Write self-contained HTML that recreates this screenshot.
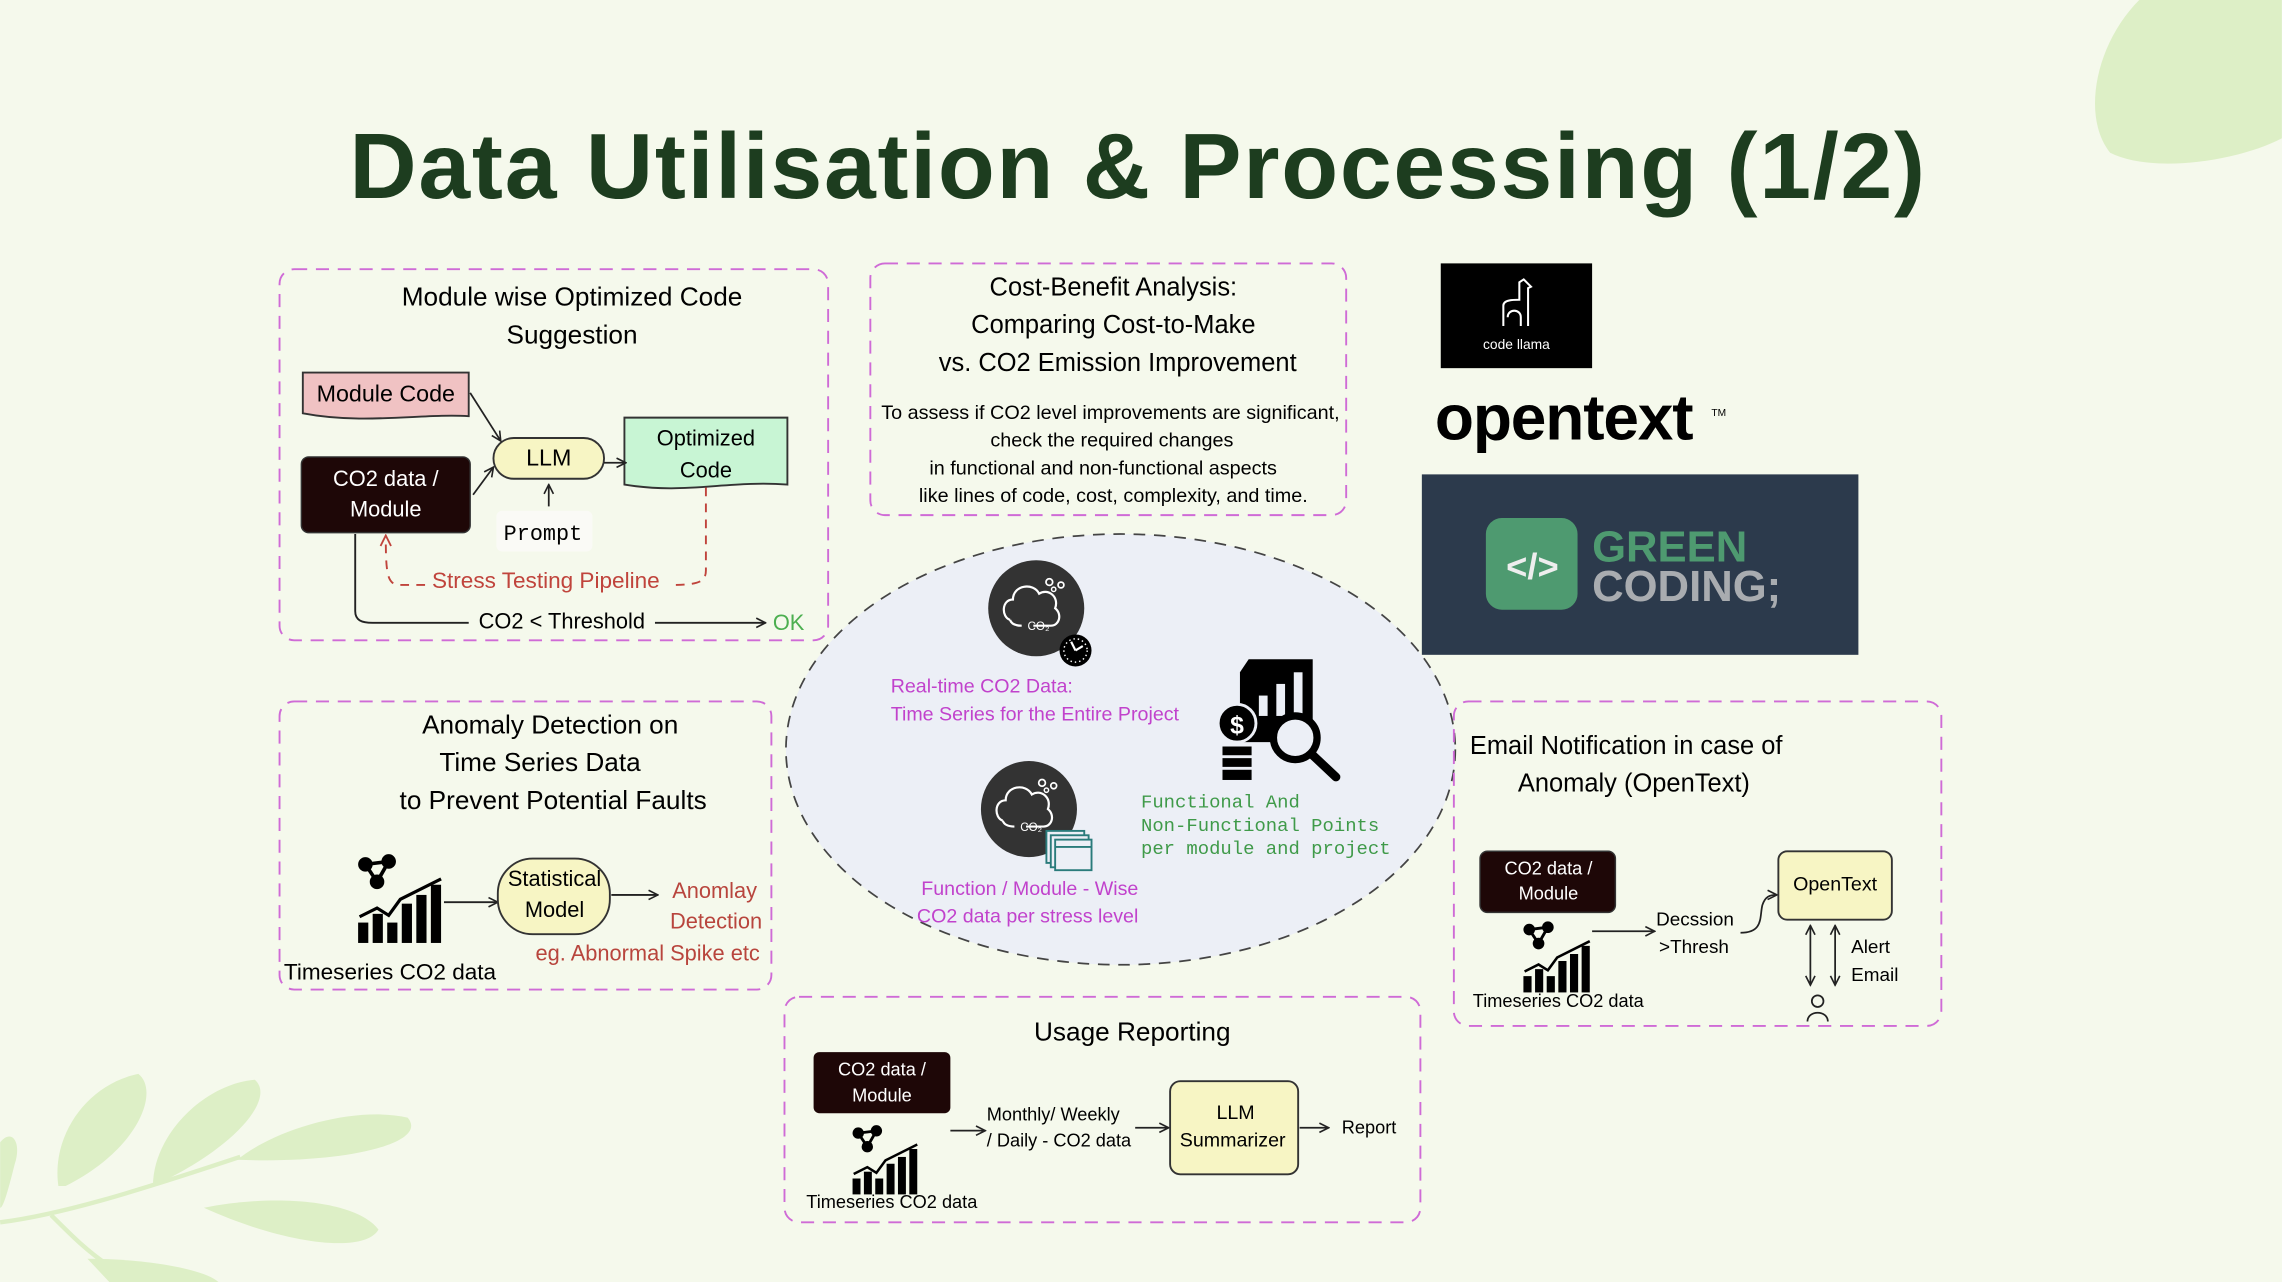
<!DOCTYPE html>
<html><head><meta charset="utf-8"><style>
html,body{margin:0;padding:0;background:#f5f9ec;}
svg{display:block;}
text{font-family:"Liberation Sans",sans-serif;}
.mono{font-family:"Liberation Mono",monospace;}
</style></head><body>
<svg width="2282" height="1282" viewBox="0 0 1568 881" xmlns="http://www.w3.org/2000/svg">
<defs>
<marker id="ar" viewBox="0 0 10 10" refX="9" refY="5" markerWidth="8" markerHeight="8" orient="auto-start-reverse" markerUnits="userSpaceOnUse">
<path d="M1,1 L9,5 L1,9" fill="none" stroke="#222" stroke-width="1.4"/></marker>
<marker id="arr" viewBox="0 0 10 10" refX="9" refY="5" markerWidth="9" markerHeight="9" orient="auto-start-reverse" markerUnits="userSpaceOnUse">
<path d="M1,1 L9,5 L1,9" fill="none" stroke="#c0443c" stroke-width="1.4"/></marker>
<g id="chart">
<circle cx="6" cy="6" r="5" fill="#000"/><circle cx="22" cy="4" r="5" fill="#000"/><circle cx="14" cy="18" r="5" fill="#000"/>
<path d="M6,6 L22,4 L14,18 Z" fill="none" stroke="#000" stroke-width="2.5"/>
<path d="M2,42 L14,36 L22,41 L30,30 L58,16" fill="none" stroke="#000" stroke-width="2.2"/>
<rect x="1" y="46" width="7" height="14" fill="#000"/><rect x="11" y="40" width="7" height="20" fill="#000"/>
<rect x="21" y="46" width="7" height="14" fill="#000"/><rect x="31" y="33" width="7" height="27" fill="#000"/>
<rect x="41" y="27" width="7" height="33" fill="#000"/><rect x="51" y="20" width="7" height="40" fill="#000"/>
</g>
<g id="cloud">
<circle cx="0" cy="0" r="33" fill="#333"/>
<path d="M-18,8 C-24,6 -24,-6 -16,-6 C-16,-16 -2,-18 2,-10 C8,-14 16,-8 13,0 C18,4 16,12 10,12 L-2,12" fill="none" stroke="#fff" stroke-width="1.5"/>
<path d="M-18,8 C-17,11 -14,12 -10,12" fill="none" stroke="#fff" stroke-width="1.5"/>
<text x="-6" y="15" font-size="8" fill="#fff">CO₂</text>
<circle cx="9" cy="-18" r="2.3" fill="none" stroke="#fff" stroke-width="1.2"/><circle cx="12" cy="-13" r="1.5" fill="none" stroke="#fff" stroke-width="1"/><circle cx="17" cy="-16" r="2" fill="none" stroke="#fff" stroke-width="1.2"/>
</g>
</defs>
<rect width="1568" height="881" fill="#f5f9ec"/>
<g fill="#ddefc6">
<path d="M1470,0 C1440,30 1430,80 1450,105 C1480,120 1540,110 1568,95 L1568,0 Z"/>
<path d="M40,815 C35,780 60,745 95,738 C110,750 95,790 45,815 Z"/>
<path d="M105,815 C105,780 140,745 175,742 C190,755 160,790 105,815 Z"/>
<path d="M163,797 C190,775 245,760 280,768 C295,785 240,800 163,797 Z"/>
<path d="M140,830 C190,820 245,825 260,845 C250,862 195,855 140,830 Z"/>
<path d="M0,785 C8,775 15,785 10,800 C5,820 2,830 0,830 Z"/>
<path d="M60,865 C100,865 140,872 150,881 L75,881 Z"/>
<path d="M0,840 C40,835 90,820 165,795" fill="none" stroke="#ddefc6" stroke-width="3"/>
<path d="M35,835 C50,850 60,860 75,870" fill="none" stroke="#ddefc6" stroke-width="3"/>
</g>
<text x="782" y="136" text-anchor="middle" font-size="64" font-weight="bold" fill="#1d3d1f" font-family="DejaVu Sans, sans-serif" letter-spacing="1.2">Data Utilisation &amp; Processing (1/2)</text>

<!-- panel 1 -->
<rect x="192" y="185" width="377" height="255" rx="10" fill="none" stroke="#cf6bd6" stroke-width="1.3" stroke-dasharray="9,6"/>
<text x="393" y="210" text-anchor="middle" font-size="18">Module wise Optimized Code</text>
<text x="393" y="236" text-anchor="middle" font-size="18">Suggestion</text>
<path d="M208,256 L322,256 L322,286 C290,284 250,292 208,284 Z" fill="#f0c2c3" stroke="#333" stroke-width="1.3"/>
<text x="265" y="276" text-anchor="middle" font-size="16">Module Code</text>
<rect x="207" y="314" width="116" height="52" rx="5" fill="#1e0707" stroke="#333"/>
<text x="265" y="334" text-anchor="middle" font-size="15" fill="#fff">CO2 data /</text>
<text x="265" y="355" text-anchor="middle" font-size="15" fill="#fff">Module</text>
<rect x="339" y="301" width="76" height="28" rx="14" fill="#f7f5c4" stroke="#333" stroke-width="1.3"/>
<text x="377" y="320" text-anchor="middle" font-size="16">LLM</text>
<path d="M429,287 L541,287 L541,333 C500,330 470,340 429,333 Z" fill="#c8f5d4" stroke="#333" stroke-width="1.3"/>
<text x="485" y="306" text-anchor="middle" font-size="15">Optimized</text>
<text x="485" y="328" text-anchor="middle" font-size="15">Code</text>
<rect x="341" y="351" width="66" height="28" rx="4" fill="#fafaf6"/>
<text x="373" y="371" text-anchor="middle" font-size="15" class="mono">Prompt</text>
<line x1="323" y1="270" x2="344" y2="303" stroke="#222" stroke-width="1.2" marker-end="url(#ar)"/>
<line x1="325" y1="340" x2="339" y2="321" stroke="#222" stroke-width="1.2" marker-end="url(#ar)"/>
<line x1="415" y1="318" x2="430" y2="318" stroke="#222" stroke-width="1.2" marker-end="url(#ar)"/>
<line x1="377" y1="348" x2="377" y2="333" stroke="#222" stroke-width="1.2" marker-end="url(#ar)"/>
<path d="M485,335 L485,392 C485,400 480,402 460,402" fill="none" stroke="#c0443c" stroke-width="1.3" stroke-dasharray="6,5"/>
<path d="M292,402 L275,402 C266,402 265,395 265,368" fill="none" stroke="#c0443c" stroke-width="1.3" stroke-dasharray="6,5" marker-end="url(#arr)"/>
<text x="375" y="404" text-anchor="middle" font-size="15.5" fill="#c0443c">Stress Testing Pipeline</text>
<path d="M244,367 L244,420 C244,426 248,428 256,428 L322,428" fill="none" stroke="#222" stroke-width="1.3"/>
<line x1="450" y1="428" x2="526" y2="428" stroke="#222" stroke-width="1.3" marker-end="url(#ar)"/>
<text x="386" y="432" text-anchor="middle" font-size="15">CO2 &lt; Threshold</text>
<text x="531" y="433" font-size="15" fill="#4caf50">OK</text>

<!-- panel 2 -->
<rect x="598" y="181" width="327" height="173" rx="10" fill="none" stroke="#cf6bd6" stroke-width="1.3" stroke-dasharray="9,6"/>
<text x="765" y="203" text-anchor="middle" font-size="17.5">Cost-Benefit Analysis:</text>
<text x="765" y="229" text-anchor="middle" font-size="17.5">Comparing Cost-to-Make</text>
<text x="768" y="255" text-anchor="middle" font-size="17.5">vs. CO2 Emission Improvement</text>
<g font-size="13.6" text-anchor="middle">
<text x="763" y="288">To assess if CO2 level improvements are significant,</text>
<text x="764" y="307">check the required changes</text>
<text x="758" y="326">in functional and non-functional aspects</text>
<text x="765" y="345">like lines of code, cost, complexity, and time.</text>
</g>

<!-- logos -->
<rect x="990" y="181" width="104" height="72" fill="#000"/>
<path d="M1033,224 L1033,210 C1033,206 1040,206 1044,206 L1044,194 L1047,192 L1052,197 L1050,198 L1050,224 M1036,218 C1036,212 1045,212 1045,218 L1045,224" fill="none" stroke="#fff" stroke-width="1.4"/>
<text x="1042" y="240" text-anchor="middle" font-size="9.5" fill="#fff">code llama</text>
<text x="986" y="302" font-size="44" font-weight="bold" letter-spacing="-0.8" fill="#000">opentext</text>
<text x="1176" y="286" font-size="7" fill="#000">TM</text>
<rect x="977" y="326" width="300" height="124" fill="#2c3a4c"/>
<rect x="1021" y="356" width="63" height="63" rx="11" fill="#4e9a70"/>
<text x="1053" y="398" text-anchor="middle" font-size="25" font-weight="bold" fill="#eee">&lt;/&gt;</text>
<text x="1094" y="386" font-size="30" font-weight="bold" fill="#4e9a70">GREEN</text>
<text x="1094" y="413" font-size="30" font-weight="bold" fill="#a9acb0">CODING;</text>

<!-- ellipse -->
<ellipse cx="770" cy="515" rx="230" ry="148" fill="#eceff6" stroke="#444" stroke-width="1.2" stroke-dasharray="8,6"/>
<use href="#cloud" x="712" y="418"/>
<circle cx="739" cy="447" r="11" fill="#000"/><circle cx="739" cy="447" r="8" fill="none" stroke="#fff" stroke-width="1" stroke-dasharray="1,2"/>
<path d="M739,447 L736,441 M739,447 L744,444" stroke="#fff" stroke-width="1.5"/>
<text x="612" y="476" font-size="13.5" fill="#c142cc">Real-time CO2 Data:</text>
<text x="612" y="495" font-size="13.5" fill="#c142cc">Time Series for the Entire Project</text>
<use href="#cloud" x="707" y="556"/>
<g fill="#eceff6" stroke="#2a7b7b" stroke-width="1.3">
<rect x="719" y="571" width="26" height="22"/><rect x="722" y="574" width="26" height="22"/><rect x="725" y="577" width="25" height="21"/>
<line x1="725" y1="582" x2="750" y2="582"/>
</g>
<text x="633" y="615" font-size="13.5" fill="#c142cc">Function / Module - Wise</text>
<text x="630" y="634" font-size="13.5" fill="#c142cc">CO2 data per stress level</text>
<path d="M858,453 L902,453 L902,510 L852,510 L852,462 Z" fill="#000"/>
<rect x="865" y="478" width="6" height="14" fill="#eceff6"/><rect x="877" y="470" width="6" height="22" fill="#eceff6"/><rect x="889" y="462" width="6" height="30" fill="#eceff6"/>
<circle cx="850" cy="497" r="13" fill="#000" stroke="#eceff6" stroke-width="2"/>
<text x="850" y="504" text-anchor="middle" font-size="17" font-weight="bold" fill="#fff">$</text>
<rect x="840" y="513" width="20" height="6" fill="#000"/><rect x="840" y="521" width="20" height="6" fill="#000"/><rect x="840" y="529" width="20" height="7" fill="#000"/>
<circle cx="890" cy="507" r="15" fill="#eceff6" stroke="#000" stroke-width="5"/>
<line x1="901" y1="518" x2="918" y2="534" stroke="#000" stroke-width="6" stroke-linecap="round"/>
<g font-size="13" fill="#3f9a49">
<text x="784" y="555" class="mono">Functional And</text>
<text x="784" y="571" class="mono">Non-Functional Points</text>
<text x="784" y="587" class="mono">per module and project</text>
</g>

<!-- panel anomaly -->
<rect x="192" y="482" width="338" height="198" rx="10" fill="none" stroke="#cf6bd6" stroke-width="1.3" stroke-dasharray="9,6"/>
<text x="378" y="504" text-anchor="middle" font-size="18">Anomaly Detection on</text>
<text x="371" y="530" text-anchor="middle" font-size="18">Time Series Data</text>
<text x="380" y="556" text-anchor="middle" font-size="18">to Prevent Potential Faults</text>
<use href="#chart" x="245" y="588"/>
<line x1="305" y1="620" x2="342" y2="620" stroke="#222" stroke-width="1.3" marker-end="url(#ar)"/>
<rect x="342" y="590" width="77" height="52" rx="24" fill="#f7f5c4" stroke="#333" stroke-width="1.3"/>
<text x="381" y="609" text-anchor="middle" font-size="15">Statistical</text>
<text x="381" y="630" text-anchor="middle" font-size="15">Model</text>
<line x1="420" y1="615" x2="452" y2="615" stroke="#222" stroke-width="1.3" marker-end="url(#ar)"/>
<text x="491" y="617" text-anchor="middle" font-size="15" fill="#b8453d">Anomlay</text>
<text x="492" y="638" text-anchor="middle" font-size="15" fill="#b8453d">Detection</text>
<text x="445" y="660" text-anchor="middle" font-size="15" fill="#b8453d">eg. Abnormal Spike etc</text>
<text x="195" y="673" font-size="15.5">Timeseries CO2 data</text>

<!-- usage reporting -->
<rect x="539" y="685" width="437" height="155" rx="10" fill="none" stroke="#cf6bd6" stroke-width="1.3" stroke-dasharray="9,6"/>
<text x="778" y="715" text-anchor="middle" font-size="18">Usage Reporting</text>
<rect x="559" y="723" width="94" height="42" rx="4" fill="#1e0707"/>
<text x="606" y="739" text-anchor="middle" font-size="12.5" fill="#fff">CO2 data /</text>
<text x="606" y="757" text-anchor="middle" font-size="12.5" fill="#fff">Module</text>
<use href="#chart" transform="translate(585,774) scale(0.78)"/>
<text x="554" y="830" font-size="12.5">Timeseries CO2 data</text>
<line x1="653" y1="777" x2="677" y2="777" stroke="#222" stroke-width="1.2" marker-end="url(#ar)"/>
<text x="678" y="770" font-size="12.5">Monthly/ Weekly</text>
<text x="678" y="788" font-size="12.5">/ Daily - CO2 data</text>
<line x1="780" y1="775" x2="803" y2="775" stroke="#222" stroke-width="1.2" marker-end="url(#ar)"/>
<rect x="804" y="743" width="88" height="64" rx="7" fill="#f7f5c4" stroke="#333" stroke-width="1.3"/>
<text x="849" y="769" text-anchor="middle" font-size="13.5">LLM</text>
<text x="847" y="788" text-anchor="middle" font-size="13.5">Summarizer</text>
<line x1="893" y1="775" x2="913" y2="775" stroke="#222" stroke-width="1.2" marker-end="url(#ar)"/>
<text x="922" y="779" font-size="12.5">Report</text>

<!-- email panel -->
<rect x="999" y="482" width="335" height="223" rx="10" fill="none" stroke="#cf6bd6" stroke-width="1.3" stroke-dasharray="9,6"/>
<text x="1010" y="518" font-size="17.5">Email Notification in case of</text>
<text x="1043" y="544" font-size="17.5">Anomaly (OpenText)</text>
<rect x="1017" y="585" width="93" height="42" rx="5" fill="#1e0707" stroke="#333"/>
<text x="1064" y="601" text-anchor="middle" font-size="12.5" fill="#fff">CO2 data /</text>
<text x="1064" y="618" text-anchor="middle" font-size="12.5" fill="#fff">Module</text>
<use href="#chart" transform="translate(1046,634) scale(0.8)"/>
<text x="1012" y="692" font-size="12.5">Timeseries CO2 data</text>
<line x1="1094" y1="640" x2="1137" y2="640" stroke="#222" stroke-width="1.2" marker-end="url(#ar)"/>
<text x="1138" y="636" font-size="13">Decssion</text>
<text x="1140" y="655" font-size="13">&gt;Thresh</text>
<path d="M1196,641 C1212,641 1209,630 1211,622 C1213,616 1216,615 1221,615" fill="none" stroke="#222" stroke-width="1.2" marker-end="url(#ar)"/>
<rect x="1222" y="585" width="78" height="47" rx="6" fill="#f7f5c4" stroke="#333" stroke-width="1.3"/>
<text x="1261" y="612" text-anchor="middle" font-size="13.5">OpenText</text>
<line x1="1244" y1="636" x2="1244" y2="677" stroke="#222" stroke-width="1.2" marker-start="url(#ar)" marker-end="url(#ar)"/>
<line x1="1261" y1="636" x2="1261" y2="677" stroke="#222" stroke-width="1.2" marker-start="url(#ar)" marker-end="url(#ar)"/>
<text x="1272" y="655" font-size="13">Alert</text>
<text x="1272" y="674" font-size="13">Email</text>
<circle cx="1249" cy="688" r="4" fill="none" stroke="#222" stroke-width="1.2"/>
<path d="M1242,702 C1242,694 1256,694 1256,702" fill="none" stroke="#222" stroke-width="1.2"/>
</svg>
</body></html>
